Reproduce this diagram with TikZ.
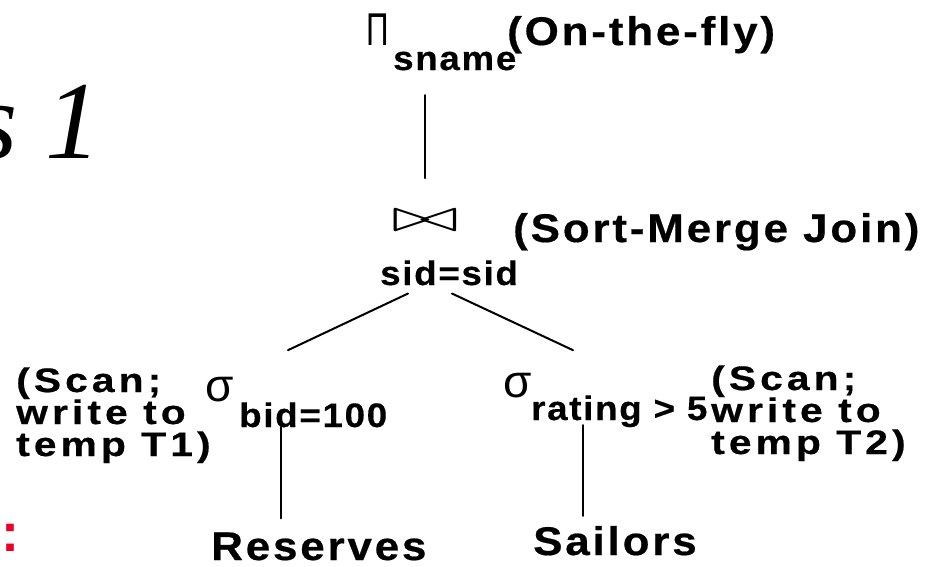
\documentclass[tikz,border=0pt]{standalone}
\usepackage{fontspec}
\usepackage{tikz}
\setmainfont{Liberation Sans}
\newfontfamily\slidefont{Liberation Sans}
\newfontfamily\titlefont{Liberation Serif}
\definecolor{bulletred}{RGB}{235,0,40}

\begin{document}
\begin{tikzpicture}[x=1pt, y=-1pt, line cap=round, line join=round,
	optext/.style={inner sep=0pt, anchor=base west,
		font=\slidefont\bfseries\fontsize{40}{40}\selectfont\addfontfeature{FakeStretch=1.1,LetterSpace=7,FakeBold=0.5}},
	subtext/.style={inner sep=0pt, anchor=base west,
		font=\slidefont\bfseries\fontsize{34}{34}\selectfont\addfontfeature{FakeStretch=1.08,LetterSpace=5,FakeBold=0.4}},
	notetext/.style={inner sep=0pt, anchor=base west, align=left,
		font=\slidefont\bfseries\fontsize{34}{32}\selectfont\addfontfeature{FakeStretch=1.2,LetterSpace=12,FakeBold=0.5}},
	greek/.style={inner sep=0pt, font=\slidefont\fontsize{46}{46}\selectfont},
	treeline/.style={line width=2pt}]
	
	% ----------------------------
	% 0) Canvas (slide is cut off at the left)
	% ----------------------------
	\useasboundingbox (0,0) rectangle (946,566);
	\clip (0,0) rectangle (946,566);
	
	\node[inner sep=0pt, anchor=base west,
	font=\titlefont\itshape\fontsize{111}{111}\selectfont] (title) at (-26,158) {s 1};
	\node[inner sep=0pt, anchor=base, text=bulletred,
	font=\slidefont\bfseries\fontsize{54}{54}\selectfont] (bullet) at (10,551) {:};
	
	% ----------------------------
	% 1) Projection on top
	% ----------------------------
	\node[greek] (proj) at (378,30) {\scalebox{0.68}[1]{Π}};
	\node[subtext] (sname) at (393,70) {sname};
	\node[optext] (fly) at (507,45) {(On-the-fly)};
	
	% ----------------------------
	% 2) Join
	% ----------------------------
	\node[inner sep=0pt] (join) at (425,221) {\scalebox{8}[4.6]{$\bowtie$}};
	\node[optext] (smj) at (513,242) {(Sort-Merge Join)};
	\node[subtext] (sid) at (380,285) {sid=sid};
	
	% ----------------------------
	% 3) Left branch (base = last line)
	% ----------------------------
	\node[notetext] (scanL) at (16,456) {(Scan;\\write to\\temp T1)};
	\node[greek] (selL) at (220,390) {σ};
	\node[subtext] (bid) at (239,427) {bid=100};
	\node[optext] (res) at (211,560) {Reserves};
	
	% ----------------------------
	% 4) Right branch
	% ----------------------------
	\node[greek] (selR) at (518,386) {σ};
	\node[subtext] (rating) at (531,420) {rating > 5};
	\node[notetext] (scanR) at (711,454) {(Scan;\\write to\\temp T2)};
	\node[optext] (sail) at (533,555) {Sailors};
	
	% ----------------------------
	% 5) Tree lines
	% ----------------------------
	\draw[treeline, shorten <=32pt, shorten >=25pt] (join.north) -- (join.north |- sname.base);
	\draw[treeline] ([shift={(28,8)}]sid.south west) -- ([shift={(49,-52)}]bid.north west);
	\draw[treeline] ([shift={(72,8)}]sid.south west) -- ([shift={(42,-45)}]rating.north west);
	\draw[treeline, shorten >=14pt] ([shift={(42,0)}]bid.base west) -- ([shift={(42,0)}]bid.base west |- res.north);
	\draw[treeline, shorten >=10pt] ([shift={(52,5)}]rating.base west) -- ([shift={(52,0)}]rating.base west |- sail.north);
	
\end{tikzpicture}
\end{document}
